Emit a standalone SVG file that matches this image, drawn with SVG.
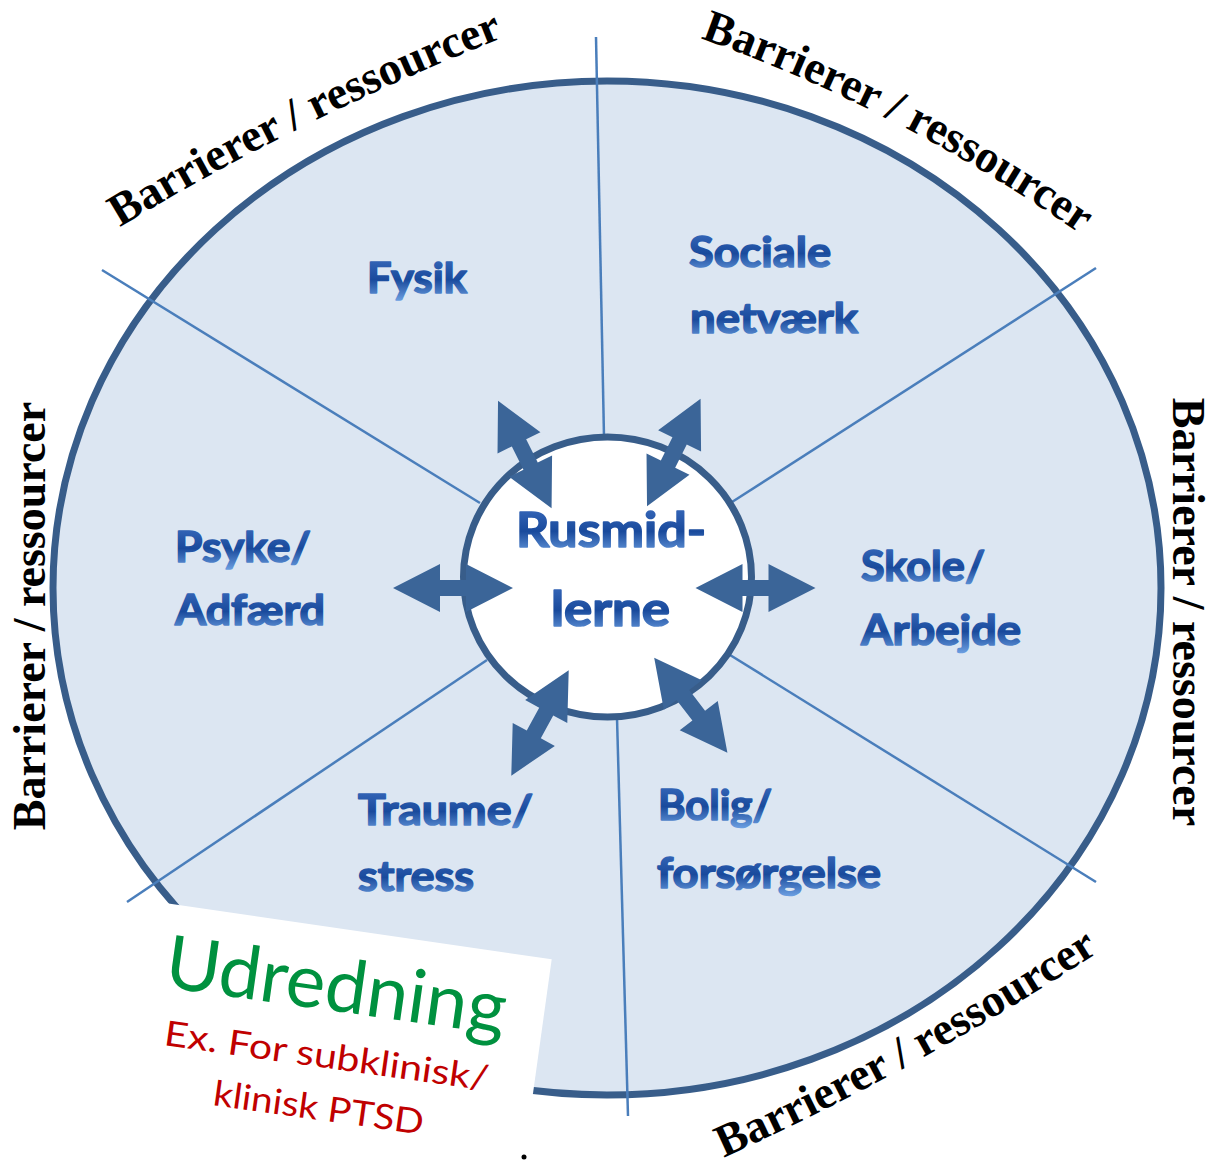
<svg xmlns="http://www.w3.org/2000/svg" xmlns:xlink="http://www.w3.org/1999/xlink" width="1210" height="1165" viewBox="0 0 1210 1165">
<style>
.ring{font-family:"Liberation Serif",serif;font-weight:bold;font-size:46px;fill:#000}
.lbl{font-family:Lato,"Open Sans",sans-serif;font-weight:bold;font-size:42px;fill:url(#tg);stroke:url(#tg);stroke-width:1.6;stroke-linejoin:round}
.ctr{font-size:48px}
.rad{stroke:#4A7EBB;stroke-width:2.5;fill:none}
.arr{fill:#3B6598}
.green{font-family:Lato,"Open Sans",sans-serif;font-size:74px;fill:#00913F}
.red{font-family:Lato,"Open Sans",sans-serif;font-size:35px;fill:#C00000}
</style>
<defs>
<linearGradient id="tg" x1="0" y1="0" x2="0" y2="1">
<stop offset="0" stop-color="#3F70C2"/>
<stop offset="0.55" stop-color="#194A9C"/>
<stop offset="1" stop-color="#6FA2E4"/>
</linearGradient>
<path id="arrow" d="M -60 0 L -13 -24 L -13 -8 L 13 -8 L 13 -24 L 60 0 L 13 24 L 13 8 L -13 8 L -13 24 Z"/>
<path id="pTL" d="M 112 232 Q 302 116 512 34"/>
<path id="pTR" d="M 694 36 Q 900 108 1086 238"/>
<path id="pBR" d="M 714 1162 Q 915 1072 1108 946"/>
</defs>

<g id="outer-ring">
<ellipse cx="607" cy="588" rx="554" ry="507" fill="#DCE6F2" stroke="#385D8A" stroke-width="7"/>
</g>

<g id="udredning-box">
<polygon points="0,879 551.7,959.3 523,1165 0,1165" fill="#FFFFFF"/>
</g>

<g id="connectors">
<line class="rad" x1="596" y1="37" x2="604" y2="437"/>
<line class="rad" x1="1096" y1="268" x2="732" y2="502"/>
<line class="rad" x1="1096" y1="882" x2="730" y2="655"/>
<line class="rad" x1="628" y1="1116" x2="617" y2="718"/>
<line class="rad" x1="127" y1="902" x2="487" y2="660"/>
<line class="rad" x1="102" y1="270" x2="480" y2="503"/>
</g>

<g id="center">
<ellipse cx="607.5" cy="577" rx="144" ry="140" fill="#FFFFFF" stroke="#385D8A" stroke-width="7"/>
</g>

<g id="arrows">
<use xlink:href="#arrow" class="arr" transform="translate(453,588)"/>
<use xlink:href="#arrow" class="arr" transform="translate(755.5,588)"/>
<use xlink:href="#arrow" class="arr" transform="translate(524.8,454.5) rotate(63.5)"/>
<use xlink:href="#arrow" class="arr" transform="translate(673.8,452.5) rotate(116.5)"/>
<use xlink:href="#arrow" class="arr" transform="translate(540,723) rotate(118.6)"/>
<use xlink:href="#arrow" class="arr" transform="translate(690.8,705.3) rotate(52.4)"/>
</g>

<g id="node-rusmidlerne">
<text class="lbl ctr" x="516" y="547" textLength="190" lengthAdjust="spacingAndGlyphs">Rusmid-</text>
<text class="lbl ctr" x="551" y="626" textLength="119" lengthAdjust="spacingAndGlyphs">lerne</text>
</g>
<g id="node-fysik">
<text class="lbl" x="367" y="293" textLength="100" lengthAdjust="spacingAndGlyphs">Fysik</text>
</g>
<g id="node-sociale">
<text class="lbl" x="689" y="267" textLength="142" lengthAdjust="spacingAndGlyphs">Sociale</text>
<text class="lbl" x="690" y="333" textLength="168" lengthAdjust="spacingAndGlyphs">netværk</text>
</g>
<g id="node-psyke">
<text class="lbl" x="175" y="562" textLength="136" lengthAdjust="spacingAndGlyphs">Psyke/</text>
<text class="lbl" x="175" y="625" textLength="150" lengthAdjust="spacingAndGlyphs">Adfærd</text>
</g>
<g id="node-skole">
<text class="lbl" x="861" y="581" textLength="124" lengthAdjust="spacingAndGlyphs">Skole/</text>
<text class="lbl" x="861" y="645" textLength="160" lengthAdjust="spacingAndGlyphs">Arbejde</text>
</g>
<g id="node-traume">
<text class="lbl" x="358" y="825" textLength="175" lengthAdjust="spacingAndGlyphs">Traume/</text>
<text class="lbl" x="358" y="891" textLength="116" lengthAdjust="spacingAndGlyphs">stress</text>
</g>
<g id="node-bolig">
<text class="lbl" x="658" y="820" textLength="114" lengthAdjust="spacingAndGlyphs">Bolig/</text>
<text class="lbl" x="657" y="888" textLength="224" lengthAdjust="spacingAndGlyphs">forsørgelse</text>
</g>

<g id="ring-labels">
<text class="ring" text-anchor="middle"><textPath xlink:href="#pTL" startOffset="50%">Barrierer / ressourcer</textPath></text>
<text class="ring" text-anchor="middle"><textPath xlink:href="#pTR" startOffset="50%">Barrierer / ressourcer</textPath></text>
<text class="ring" text-anchor="middle"><textPath xlink:href="#pBR" startOffset="50%">Barrierer / ressourcer</textPath></text>
<text class="ring" text-anchor="middle" transform="translate(45,616) rotate(-90)">Barrierer / ressourcer</text>
<text class="ring" text-anchor="middle" transform="translate(1173,612) rotate(90)">Barrierer / ressourcer</text>
</g>

<g id="udredning-text">
<text class="green" x="163" y="987" transform="rotate(8,163,987)" textLength="343" lengthAdjust="spacingAndGlyphs">Udredning</text>
<text class="red" x="163" y="1045" transform="rotate(8,163,1045)" textLength="327" lengthAdjust="spacingAndGlyphs">Ex. For subklinisk/</text>
<text class="red" x="212" y="1105" transform="rotate(8,212,1105)" textLength="212" lengthAdjust="spacingAndGlyphs">klinisk PTSD</text>
</g>

<circle cx="524" cy="1157" r="2.5" fill="#000"/>
</svg>
